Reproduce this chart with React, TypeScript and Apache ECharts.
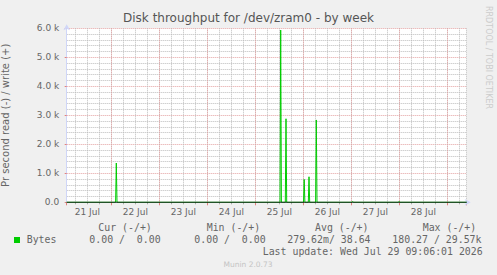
import React, { useEffect, useRef } from "react";
import * as echarts from "echarts";

// x values are hours since 21 Jul 00:00
const startHour = 1.7;
const endHour = 201.7;
const sampleHours = [1.7, 26.15, 26.5, 26.85, 108.35, 108.7, 109.05, 111.0, 111.35, 111.7, 120.1, 120.45, 120.8, 122.5, 122.85, 123.2, 126.15, 126.5, 126.85, 144.4, 144.7, 145.0, 167.6, 167.9, 168.2, 201.7];
const writeValues = [0, 0, 1355, 0, 0, 5940, 0, 0, 2880, 0, 0, 790, 0, 0, 880, 0, 0, 2840, 0, 0, 30, 0, 0, 30, 0, 0];
const readHours = [1.7, 201.7];
const readValues = [0, 0];
const firstDay = 20; // day label = firstDay + n
const monthLabel = "Jul";
const yTicks = [0, 1000, 2000, 3000, 4000, 5000, 6000];

const legendHeaders = ["Cur (-/+)", "Min (-/+)", "Avg (-/+)", "Max (-/+)"];
const legendName = "Bytes";
const legendValues = ["0.00 /  0.00", "0.00 /  0.00", "279.62m/ 38.64", "180.27 / 29.57k"];
const lastUpdate = "Last update: Wed Jul 29 09:06:01 2026";
const footer = "Munin 2.0.73";
const title = "Disk throughput for /dev/zram0 - by week";
const yName = "Pr second read (-) / write (+)";
const watermark = "RRDTOOL / TOBI OETIKER";

const FONT = "DejaVu Sans";
const MONO = "DejaVu Sans Mono";
const TXT = "#666666";
const AXIS = "#CFD6F8";
const MGRID = "#e4a0a0";
const GRID = "#bcbcbc";

export default function App() {
  const ref = useRef<HTMLDivElement>(null);
  useEffect(() => {
    document.body.style.margin = "0";
    const chart = echarts.init(ref.current!, null, { renderer: "svg" });
    const headerX = [98.3, 206.7, 315, 422.7];
    const valueX = [89.3, 194.3, 287.3, 392.3];
    const graphics: any[] = [];
    legendHeaders.forEach((h, i) =>
      graphics.push({
        type: "text", x: headerX[i], y: 227.3,
        style: { text: h, fontFamily: MONO, fontSize: 9.9, fill: TXT, textAlign: "left", textVerticalAlign: "middle" },
      })
    );
    legendValues.forEach((v, i) =>
      graphics.push({
        type: "text", x: valueX[i], y: 239.7,
        style: { text: v, fontFamily: MONO, fontSize: 9.9, fill: TXT, textAlign: "left", textVerticalAlign: "middle" },
      })
    );
    graphics.push({ type: "rect", shape: { x: 14, y: 237, width: 6, height: 6 }, style: { fill: "#00cc00" } });
    graphics.push({
      type: "text", x: 26.7, y: 239.7,
      style: { text: legendName, fontFamily: MONO, fontSize: 9.9, fill: TXT, textAlign: "left", textVerticalAlign: "middle" },
    });
    graphics.push({
      type: "text", x: 482.7, y: 251.7,
      style: { text: lastUpdate, fontFamily: MONO, fontSize: 9.9, fill: TXT, textAlign: "right", textVerticalAlign: "middle" },
    });
    graphics.push({
      type: "text", x: 248, y: 264,
      style: { text: footer, fontFamily: FONT, fontSize: 7.5, fill: "#c4c4c4", textAlign: "center", textVerticalAlign: "middle" },
    });
    graphics.push({
      type: "text", x: 488, y: 57.5, rotation: -Math.PI / 2,
      style: { text: watermark, fontFamily: FONT, fontSize: 8, fill: "#cccccc", textAlign: "center", textVerticalAlign: "middle" },
    });

    const baseX = {
      type: "value", position: "bottom", min: startHour, max: endHour, z: 1,
      axisLabel: { show: false }, axisLine: { show: false }, axisTick: { show: false }, splitLine: { show: false },
    };

    chart.setOption({
      animation: false,
      backgroundColor: "#f0f0f0",
      textStyle: { fontFamily: FONT },
      title: {
        text: title, left: "center", top: 12, padding: 0,
        textStyle: { fontFamily: FONT, fontSize: 12, fontWeight: "normal", color: "#555555" },
      },
      grid: {
        left: 66.7, top: 28.3, width: 400, height: 174, z: 0,
        show: true, backgroundColor: "#ffffff", borderWidth: 0,
        outerBoundsMode: "none",
      } as any,
      xAxis: [
        {
          ...baseX,
          splitNumber: 33, minInterval: 6, maxInterval: 6,
          splitLine: { show: true, lineStyle: { color: GRID, type: [1, 1], width: 1 } },
          axisTick: { show: true, length: 2, lineStyle: { color: "#aaaaaa" } },
          axisLine: {
            show: true, onZero: false, lineStyle: { color: AXIS, width: 1 },
            symbol: ["none", "arrow"], symbolSize: [5, 6], symbolOffset: [0, 4],
          },
        },
        {
          ...baseX,
          splitNumber: 8, minInterval: 24, maxInterval: 24,
          splitLine: { show: true, showMinLine: false, showMaxLine: false, lineStyle: { color: MGRID, type: [1, 1], width: 1 } },
          axisTick: { show: true, length: 3, lineStyle: { color: "#e08080" } },
        },
        {
          ...baseX,
          min: startHour + 12, max: endHour + 12,
          splitNumber: 8, minInterval: 24, maxInterval: 24,
          axisLabel: {
            show: true, margin: 5, fontSize: 9, color: TXT, fontFamily: FONT,
            showMinLabel: false, showMaxLabel: false,
            formatter: (v: number) => (Math.abs(v % 24) < 1e-6 ? `${firstDay + Math.round(v / 24)} ${monthLabel}` : ""),
          },
        },
      ],
      yAxis: {
        type: "value", min: yTicks[0], max: yTicks[yTicks.length - 1], interval: yTicks[1] - yTicks[0], z: 1,
        name: yName, nameLocation: "middle", nameGap: 56,
        nameTextStyle: { fontFamily: FONT, fontSize: 10, color: TXT },
        axisLabel: {
          fontSize: 9, color: TXT, margin: 7.5, fontFamily: FONT,
          formatter: (v: number) => (v === 0 ? "0.0" : `${(v / 1000).toFixed(1)} k`),
        },
        axisLine: {
          show: true, lineStyle: { color: AXIS, width: 1 },
          symbol: ["none", "arrow"], symbolSize: [5, 6], symbolOffset: [0, 4],
        },
        axisTick: { show: true, length: 2, lineStyle: { color: "#e08080" } },
        splitLine: { show: true, lineStyle: { color: MGRID, type: [1, 1], width: 1 } },
        minorTick: { show: false, splitNumber: 5 },
        minorSplitLine: { show: true, lineStyle: { color: GRID, type: [1, 1], width: 1 } },
      },
      series: [
        {
          name: "write", type: "line", xAxisIndex: 0,
          data: sampleHours.map((h, i) => [h, writeValues[i]]),
          showSymbol: false, symbol: "none",
          lineStyle: { color: "#00cc00", width: 1 }, itemStyle: { color: "#00cc00" }, z: 3,
        },
        {
          name: "read", type: "line", xAxisIndex: 0,
          data: readHours.map((h, i) => [h, readValues[i]]),
          showSymbol: false, symbol: "none",
          lineStyle: { color: "#000000", width: 1 }, z: 4,
        },
      ],
      graphic: graphics,
    });
    return () => chart.dispose();
  }, []);
  return <div ref={ref} style={{ position: "absolute", left: 0, top: 0, width: 497, height: 275 }} />;
}
